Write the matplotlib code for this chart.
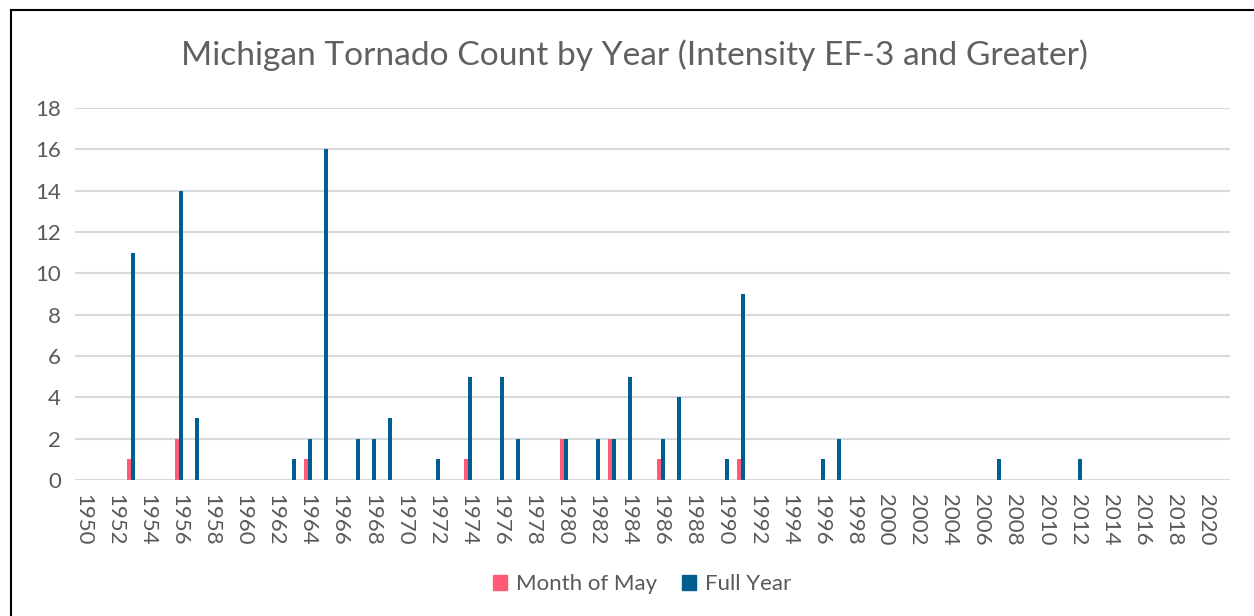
import numpy as np
import matplotlib.pyplot as plt
from matplotlib.lines import Line2D
from matplotlib.patches import Patch

# data
years = list(range(1950, 2022))
full_year = [0, 0, 0, 11, 0, 0, 14, 3, 0, 0,
             0, 0, 0, 1, 2, 16, 0, 2, 2, 3,
             0, 0, 1, 0, 5, 0, 5, 2, 0, 0,
             2, 0, 2, 2, 5, 0, 2, 4, 0, 0,
             1, 9, 0, 0, 0, 0, 1, 2, 0, 0,
             0, 0, 0, 0, 0, 0, 0, 1, 0, 0,
             0, 0, 1, 0, 0, 0, 0, 0, 0, 0,
             0, 0]
may = [0, 0, 0, 1, 0, 0, 2, 0, 0, 0,
       0, 0, 0, 0, 1, 0, 0, 0, 0, 0,
       0, 0, 0, 0, 1, 0, 0, 0, 0, 0,
       2, 0, 0, 2, 0, 0, 1, 0, 0, 0,
       0, 1, 0, 0, 0, 0, 0, 0, 0, 0,
       0, 0, 0, 0, 0, 0, 0, 0, 0, 0,
       0, 0, 0, 0, 0, 0, 0, 0, 0, 0,
       0, 0]
yticks = list(range(0, 19, 2))

pink = '#FF5B79'
blue = '#005F8F'
text_gray = '#595959'
grid_gray = '#D9D9D9'

plt.rcParams['font.family'] = ['Lato', 'DejaVu Sans']

fig = plt.figure(figsize=(12.54, 6.16), dpi=100)
ax = fig.add_axes([75 / 1254, 1 - 480 / 616, 1155 / 1254, 372 / 616])

x = np.arange(len(years))
w = 0.25
ax.bar(x - w / 2, may, width=w, color=pink, zorder=3, label='Month of May')
ax.bar(x + w / 2, full_year, width=w, color=blue, zorder=3, label='Full Year')

ax.set_xlim(-0.5, len(years) - 0.5)
ax.set_ylim(0, 18)
ax.set_yticks(yticks)
ax.set_yticklabels([str(t) for t in yticks], fontsize=16, color=text_gray)
ax.yaxis.grid(True, color=grid_gray, linewidth=1.5, zorder=0)
ax.set_axisbelow(True)

lab_idx = [i for i, y in enumerate(years) if y % 2 == 0]
ax.set_xticks(lab_idx)
ax.set_xticklabels([str(years[i]) for i in lab_idx], rotation=270,
                   fontsize=16, color=text_gray)
ax.tick_params(axis='both', length=0)
ax.tick_params(axis='x', pad=10)
ax.tick_params(axis='y', pad=10)
for s in ax.spines.values():
    s.set_visible(False)

fig.text(0.506, 1 - 55 / 616, 'Michigan Tornado Count by Year (Intensity EF-3 and Greater)',
         ha='center', va='center', fontsize=24.1, color='#606060')

handles = [Patch(color=pink, label='Month of May'), Patch(color=blue, label='Full Year')]
fig.legend(handles=handles, loc='center', bbox_to_anchor=(0.512, 1 - 584 / 616),
           ncol=2, frameon=False, fontsize=16, labelcolor=text_gray,
           handlelength=0.65, handleheight=0.65, handletextpad=0.4, columnspacing=1.1)

# chart border (left and top edges visible in the reference)
fig.add_artist(Line2D([10.5 / 1254, 10.5 / 1254], [0, 1 - 9.5 / 616],
                      transform=fig.transFigure, color='black', linewidth=1.5))
fig.add_artist(Line2D([10.5 / 1254, 1], [1 - 9.5 / 616, 1 - 9.5 / 616],
                      transform=fig.transFigure, color='black', linewidth=1.5))

fig.savefig('out.png', dpi=100)
